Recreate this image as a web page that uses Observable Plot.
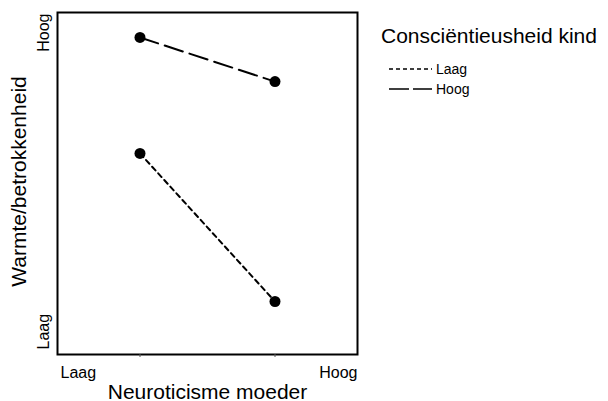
<!DOCTYPE html>
<html>
<head>
<meta charset="utf-8">
<script src="https://cdn.jsdelivr.net/npm/d3@7"></script>
<script src="https://cdn.jsdelivr.net/npm/@observablehq/plot@0.6"></script>
<style>
  html, body { margin: 0; padding: 0; background: white; }
  #wrap { position: relative; width: 608px; height: 401px; font-family: "Liberation Sans", Arial, sans-serif; }
  #legend { position: absolute; left: 0; top: 0; }
</style>
</head>
<body>
<div id="wrap"></div>
<script>
// Data
const series = ["Laag", "Hoog"];              // Consciëntieusheid kind
const xValues = [1.1, 2.9];                   // Neuroticisme moeder (laag / hoog)
const yLaag = [5.88, 1.55];                   // Warmte/betrokkenheid, conscientieusheid laag
const yHoog = [9.27, 7.98];                   // Warmte/betrokkenheid, conscientieusheid hoog
const xTickLabels = ["Laag", "Hoog"];
const yTickLabels = ["Laag", "Hoog"];
const xDomain = [0, 4];
const yDomain = [0, 10];
const xTitle = "Neuroticisme moeder";
const yTitle = "Warmte/betrokkenheid";
const legendTitle = "Consciëntieusheid kind";
const dashes = {Laag: "5,4", Hoog: "19,7"};
const legendDashes = {Laag: "4,3", Hoog: "20,4"};

const laag = xValues.map((x, i) => ({x, y: yLaag[i], s: "Laag"}));
const hoog = xValues.map((x, i) => ({x, y: yHoog[i], s: "Hoog"}));

const chart = Plot.plot({
  width: 608,
  height: 401,
  marginLeft: 57,
  marginRight: 251,
  marginTop: 12,
  marginBottom: 47,
  x: {domain: xDomain, axis: null},
  y: {domain: yDomain, axis: null},
  style: {fontFamily: "'Liberation Sans', Arial, sans-serif", background: "white", color: "black"},
  marks: [
    Plot.frame({stroke: "black", strokeWidth: 2}),
    Plot.axisX({ticks: xValues, tickSize: 3, tickFormat: () => "", label: null, anchor: "bottom", stroke: "#555"}),
    Plot.line(laag, {x: "x", y: "y", stroke: "black", strokeWidth: 2, strokeDasharray: dashes.Laag}),
    Plot.line(hoog, {x: "x", y: "y", stroke: "black", strokeWidth: 2, strokeDasharray: dashes.Hoog}),
    Plot.dot([...laag, ...hoog], {x: "x", y: "y", r: 5.5, fill: "black", stroke: "none"}),
    // x tick labels
    Plot.text([xTickLabels[0]], {x: () => xDomain[0], frameAnchor: "bottom", lineAnchor: "bottom", dy: 23, dx: 3, textAnchor: "start", fontSize: 16, fill: "black"}),
    Plot.text([xTickLabels[1]], {x: () => xDomain[1], frameAnchor: "bottom", lineAnchor: "bottom", dy: 23, textAnchor: "end", fontSize: 16, fill: "black"}),
    // y tick labels
    Plot.text([yTickLabels[0]], {y: () => yDomain[0], frameAnchor: "left", rotate: -90, dx: -14, dy: -5, textAnchor: "start", lineAnchor: "middle", fontSize: 16, fill: "black"}),
    Plot.text([yTickLabels[1]], {y: () => yDomain[1], frameAnchor: "left", rotate: -90, dx: -14, dy: 1, textAnchor: "end", lineAnchor: "middle", fontSize: 16, fill: "black"}),
    // axis titles
    Plot.text([xTitle], {frameAnchor: "bottom", lineAnchor: "bottom", textAnchor: "middle", dy: 44, fontSize: 21, fill: "black"}),
    Plot.text([yTitle], {frameAnchor: "left", rotate: -90, dx: -38, dy: -2, textAnchor: "middle", lineAnchor: "middle", fontSize: 21, fill: "black"})
  ]
});

const wrap = document.getElementById("wrap");
wrap.appendChild(chart);

// Legend
const lg = d3.select(wrap).append("svg")
  .attr("id", "legend")
  .attr("width", 608).attr("height", 401)
  .style("font-family", "'Liberation Sans', Arial, sans-serif");
lg.append("text").attr("x", 381).attr("y", 43).attr("font-size", 21).attr("fill", "black").text(legendTitle);
series.forEach((s, i) => {
  const yLine = 69 + i * 20;
  lg.append("line").attr("x1", 389).attr("x2", 432).attr("y1", yLine).attr("y2", yLine)
    .attr("stroke", "black").attr("stroke-width", 1.5).attr("stroke-dasharray", legendDashes[s]);
  lg.append("text").attr("x", 436).attr("y", yLine + 4.5).attr("font-size", 14).attr("fill", "black").text(s);
});
</script>
</body>
</html>
